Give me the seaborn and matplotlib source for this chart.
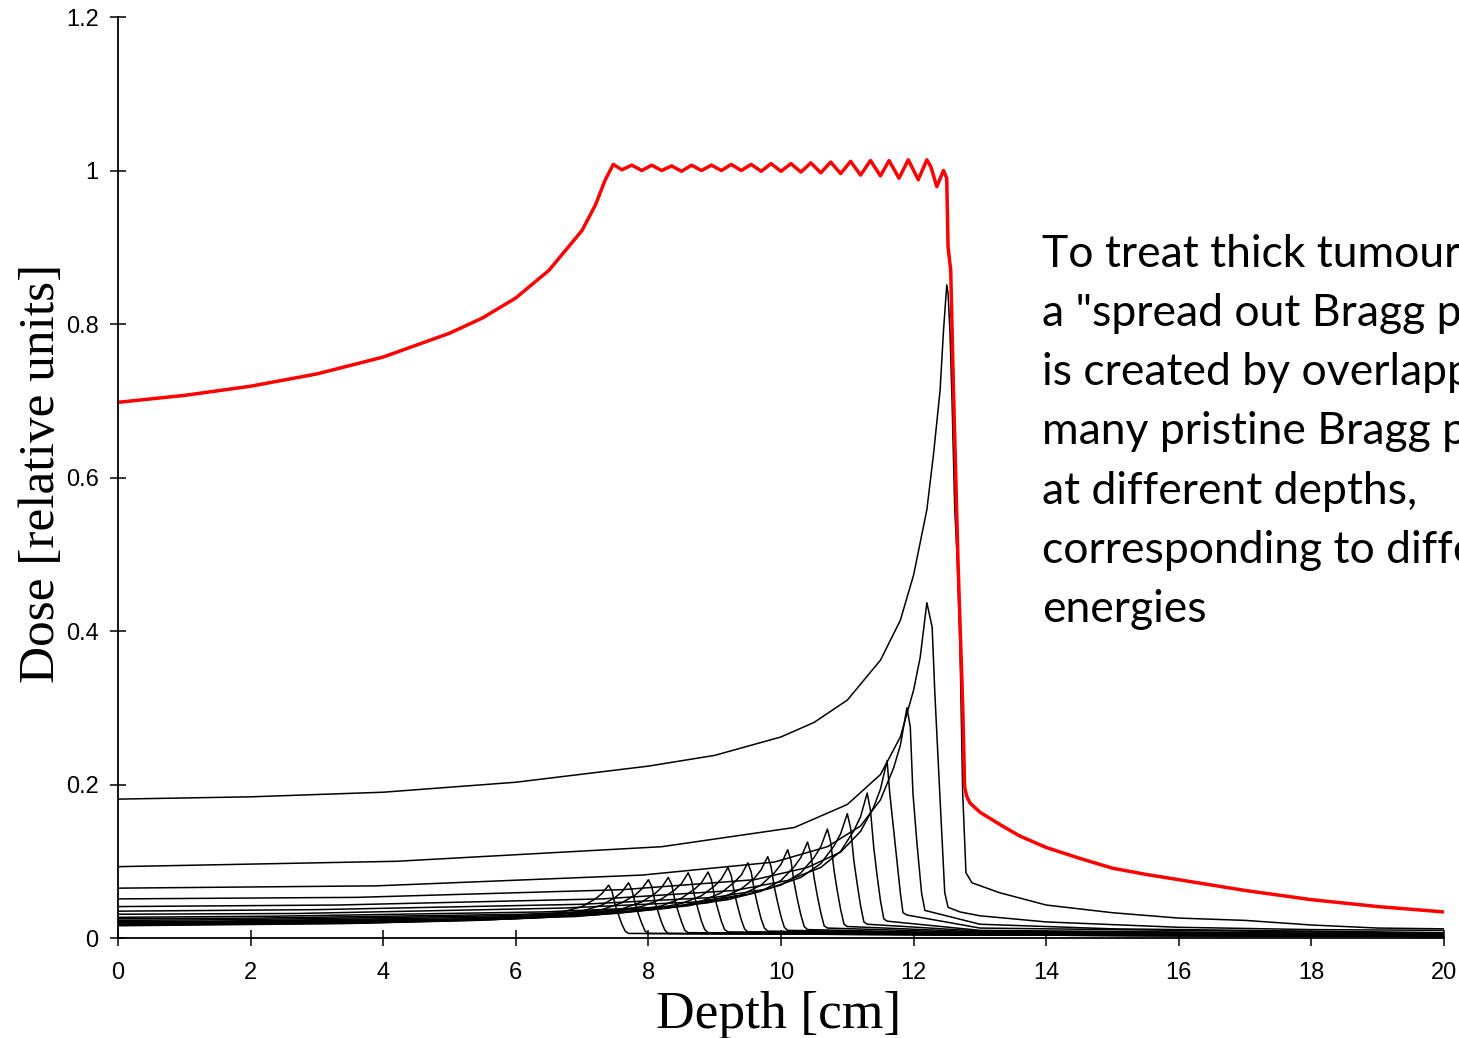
import pandas as pd
import seaborn as sns
import matplotlib.pyplot as plt

# -------------------------------
# Spread out Bragg peak (red)
# -------------------------------
sobp_depth = [0, 1, 2, 3, 4, 5, 5.5, 6, 6.5, 7.0, 7.2, 7.35, 7.47,
              7.6, 7.75, 7.9, 8.05, 8.2, 8.35, 8.5, 8.65, 8.8, 8.95, 9.1, 9.25,
              9.4, 9.55, 9.7, 9.85, 10.0, 10.15, 10.3, 10.45, 10.6, 10.75, 10.9,
              11.05, 11.2, 11.35, 11.5, 11.63, 11.78, 11.92, 12.07, 12.2, 12.26,
              12.35, 12.45, 12.5, 12.52, 12.56, 12.6, 12.67, 12.74, 12.77, 12.8,
              12.85, 13.0, 13.3, 13.6, 14.0, 14.5, 15, 15.5, 16, 17, 18, 19, 20]
sobp_dose = [0.698, 0.707, 0.719, 0.735, 0.757, 0.788, 0.808, 0.834, 0.870, 0.922, 0.955, 0.988, 1.008,
             1.001, 1.007, 1.000, 1.007, 1.000, 1.006, 0.999, 1.007, 1.000, 1.007, 1.000, 1.008,
             1.000, 1.008, 0.999, 1.009, 0.999, 1.009, 0.998, 1.010, 0.997, 1.011, 0.996,
             1.012, 0.994, 1.013, 0.993, 1.013, 0.990, 1.014, 0.988, 1.014, 1.005,
             0.979, 1.000, 0.990, 0.900, 0.870, 0.720, 0.490, 0.306, 0.197, 0.185,
             0.176, 0.164, 0.148, 0.133, 0.118, 0.104, 0.091, 0.083, 0.076, 0.062, 0.050, 0.041, 0.034]

# -------------------------------
# Pristine Bragg peaks (black), named by peak depth
# -------------------------------
peak_125_depth = [0, 2, 4, 6, 8, 9, 10, 10.5, 11, 11.5, 11.8, 12.0, 12.2, 12.3, 12.4, 12.45, 12.5,
                  12.52, 12.55, 12.58, 12.62, 12.66, 12.7, 12.74, 12.79, 12.88, 13.3, 14, 15, 16, 17, 18, 19, 20]
peak_125_dose = [0.181, 0.184, 0.190, 0.203, 0.224, 0.238, 0.262, 0.281, 0.310, 0.362, 0.414, 0.473, 0.558, 0.630, 0.714, 0.790, 0.851,
                 0.840, 0.787, 0.700, 0.560, 0.490, 0.380, 0.190, 0.085, 0.072, 0.059, 0.043, 0.033, 0.026, 0.023, 0.017, 0.013, 0.012]

peak_122_depth = [0, 4.2, 8.2, 10.2, 11.0, 11.5, 11.8, 12.0, 12.1, 12.2, 12.28, 12.32, 12.37, 12.42, 12.47, 12.52, 12.7, 13, 14, 16, 18, 20]
peak_122_dose = [0.093, 0.100, 0.119, 0.144, 0.174, 0.213, 0.262, 0.323, 0.366, 0.437, 0.405, 0.320, 0.232, 0.145, 0.059, 0.040, 0.034, 0.029, 0.021, 0.014, 0.011, 0.010]

peak_119_depth = [0, 3.9, 7.9, 9.9, 10.7, 11.2, 11.5, 11.7, 11.8, 11.9, 11.95, 11.99, 12.05, 12.12, 12.17, 13, 15, 20]
peak_119_dose = [0.065, 0.068, 0.082, 0.099, 0.119, 0.146, 0.180, 0.222, 0.251, 0.300, 0.275, 0.189, 0.124, 0.059, 0.036, 0.018, 0.012, 0.007]

peak_116_depth = [0, 3.6, 7.6, 9.6, 10.4, 10.9, 11.2, 11.4, 11.5, 11.6, 11.64, 11.72, 11.8, 11.84, 11.9, 13, 20]
peak_116_dose = [0.051, 0.053, 0.063, 0.076, 0.092, 0.112, 0.139, 0.171, 0.194, 0.231, 0.189, 0.124, 0.059, 0.033, 0.030, 0.013, 0.006]

peak_113_depth = [0, 3.3, 7.3, 9.3, 10.1, 10.6, 10.9, 11.1, 11.2, 11.3, 11.35, 11.4, 11.45, 11.5, 11.55, 11.6, 13, 20]
peak_113_dose = [0.041, 0.043, 0.051, 0.062, 0.075, 0.092, 0.113, 0.140, 0.158, 0.189, 0.166, 0.117, 0.081, 0.049, 0.025, 0.022, 0.010, 0.005]

peak_110_depth = [0, 3.0, 7.0, 9.0, 9.8, 10.3, 10.6, 10.8, 10.9, 11.0, 11.05, 11.1, 11.15, 11.2, 11.25, 11.3, 13, 20]
peak_110_dose = [0.035, 0.037, 0.044, 0.053, 0.064, 0.079, 0.097, 0.120, 0.136, 0.162, 0.143, 0.100, 0.070, 0.042, 0.021, 0.018, 0.009, 0.005]

peak_107_depth = [0, 2.7, 6.7, 8.7, 9.5, 10.0, 10.3, 10.5, 10.6, 10.7, 10.75, 10.8, 10.85, 10.9, 10.95, 11.0, 13, 20]
peak_107_dose = [0.031, 0.032, 0.039, 0.047, 0.057, 0.069, 0.085, 0.105, 0.119, 0.142, 0.125, 0.088, 0.061, 0.037, 0.018, 0.015, 0.008, 0.004]

peak_104_depth = [0, 2.4, 6.4, 8.4, 9.2, 9.7, 10.0, 10.2, 10.3, 10.4, 10.45, 10.5, 10.55, 10.6, 10.65, 10.7, 13, 20]
peak_104_dose = [0.027, 0.0285, 0.034, 0.041, 0.050, 0.061, 0.075, 0.093, 0.105, 0.125, 0.110, 0.078, 0.054, 0.033, 0.016, 0.013, 0.007, 0.004]

peak_101_depth = [0, 2.1, 6.1, 8.1, 8.9, 9.4, 9.7, 9.9, 10.0, 10.1, 10.15, 10.2, 10.25, 10.3, 10.35, 10.4, 13, 20]
peak_101_dose = [0.025, 0.026, 0.031, 0.038, 0.046, 0.056, 0.069, 0.085, 0.096, 0.115, 0.101, 0.071, 0.049, 0.030, 0.015, 0.011, 0.006, 0.004]

peak_098_depth = [0, 1.8, 5.8, 7.8, 8.6, 9.1, 9.4, 9.6, 9.7, 9.8, 9.85, 9.9, 9.95, 10.0, 10.05, 10.1, 13, 20]
peak_098_dose = [0.023, 0.024, 0.029, 0.035, 0.042, 0.052, 0.064, 0.078, 0.089, 0.106, 0.093, 0.066, 0.046, 0.028, 0.014, 0.010, 0.006, 0.003]

peak_095_depth = [0, 1.5, 5.5, 7.5, 8.3, 8.8, 9.1, 9.3, 9.4, 9.5, 9.55, 9.6, 9.65, 9.7, 9.75, 9.8, 13, 20]
peak_095_dose = [0.0215, 0.022, 0.027, 0.032, 0.039, 0.048, 0.059, 0.073, 0.082, 0.098, 0.086, 0.061, 0.042, 0.025, 0.013, 0.009, 0.005, 0.003]

peak_092_depth = [0, 1.2, 5.2, 7.2, 8.0, 8.5, 8.8, 9.0, 9.1, 9.2, 9.25, 9.3, 9.35, 9.4, 9.45, 9.5, 13, 20]
peak_092_dose = [0.020, 0.021, 0.025, 0.030, 0.037, 0.045, 0.055, 0.068, 0.077, 0.092, 0.081, 0.057, 0.040, 0.024, 0.012, 0.008, 0.005, 0.003]

peak_089_depth = [0, 4.9, 6.9, 7.7, 8.2, 8.5, 8.7, 8.8, 8.9, 8.95, 9.0, 9.05, 9.1, 9.15, 9.2, 13, 20]
peak_089_dose = [0.019, 0.023, 0.028, 0.034, 0.042, 0.052, 0.064, 0.072, 0.086, 0.076, 0.053, 0.037, 0.022, 0.011, 0.008, 0.005, 0.003]

peak_086_depth = [0, 4.6, 6.6, 7.4, 7.9, 8.2, 8.4, 8.5, 8.6, 8.65, 8.7, 8.75, 8.8, 8.85, 8.9, 13, 20]
peak_086_dose = [0.019, 0.023, 0.028, 0.034, 0.041, 0.051, 0.063, 0.071, 0.085, 0.075, 0.053, 0.037, 0.022, 0.011, 0.007, 0.004, 0.002]

peak_083_depth = [0, 4.3, 6.3, 7.1, 7.6, 7.9, 8.1, 8.2, 8.3, 8.35, 8.4, 8.45, 8.5, 8.55, 8.6, 13, 20]
peak_083_dose = [0.018, 0.0215, 0.026, 0.031, 0.038, 0.047, 0.058, 0.066, 0.079, 0.070, 0.049, 0.034, 0.021, 0.010, 0.007, 0.004, 0.002]

peak_080_depth = [0, 4.0, 6.0, 6.8, 7.3, 7.6, 7.8, 7.9, 8.0, 8.05, 8.1, 8.15, 8.2, 8.25, 8.3, 13, 20]
peak_080_dose = [0.0175, 0.0207, 0.025, 0.030, 0.037, 0.046, 0.056, 0.064, 0.076, 0.067, 0.047, 0.033, 0.020, 0.010, 0.006, 0.004, 0.002]

peak_077_depth = [0, 3.7, 5.7, 6.5, 7.0, 7.3, 7.5, 7.6, 7.7, 7.75, 7.8, 7.85, 7.9, 7.95, 8.0, 13, 20]
peak_077_dose = [0.0168, 0.0196, 0.024, 0.029, 0.035, 0.043, 0.053, 0.060, 0.072, 0.063, 0.045, 0.031, 0.019, 0.009, 0.006, 0.004, 0.002]

peak_074_depth = [0, 3.4, 5.4, 6.2, 6.7, 7.0, 7.2, 7.3, 7.4, 7.45, 7.5, 7.55, 7.6, 7.65, 7.7, 13, 20]
peak_074_dose = [0.016, 0.0188, 0.023, 0.027, 0.034, 0.041, 0.051, 0.058, 0.069, 0.061, 0.043, 0.030, 0.018, 0.009, 0.006, 0.004, 0.002]

pristine = {
    "12.5": (peak_125_depth, peak_125_dose), "12.2": (peak_122_depth, peak_122_dose),
    "11.9": (peak_119_depth, peak_119_dose), "11.6": (peak_116_depth, peak_116_dose),
    "11.3": (peak_113_depth, peak_113_dose), "11.0": (peak_110_depth, peak_110_dose),
    "10.7": (peak_107_depth, peak_107_dose), "10.4": (peak_104_depth, peak_104_dose),
    "10.1": (peak_101_depth, peak_101_dose), "9.8": (peak_098_depth, peak_098_dose),
    "9.5": (peak_095_depth, peak_095_dose), "9.2": (peak_092_depth, peak_092_dose),
    "8.9": (peak_089_depth, peak_089_dose), "8.6": (peak_086_depth, peak_086_dose),
    "8.3": (peak_083_depth, peak_083_dose), "8.0": (peak_080_depth, peak_080_dose),
    "7.7": (peak_077_depth, peak_077_dose), "7.4": (peak_074_depth, peak_074_dose),
}

x_ticks = [0, 2, 4, 6, 8, 10, 12, 14, 16, 18, 20]
y_ticks = [0, 0.2, 0.4, 0.6, 0.8, 1.0, 1.2]
y_tick_labels = ["0", "0.2", "0.4", "0.6", "0.8", "1", "1.2"]

# the slide text runs off the right edge, as in the original
note_lines = [
    "To treat thick tumours,",
    'a "spread out Bragg peak"',
    "is created by overlapping",
    "many pristine Bragg peaks",
    "at different depths,",
    "corresponding to different",
    "energies",
]

# -------------------------------
# Long table for seaborn
# -------------------------------
frames = []
for name, (d, v) in pristine.items():
    frames.append(pd.DataFrame({"depth": d, "dose": v, "curve": name}))
df = pd.concat(frames, ignore_index=True)

sns.set_style("ticks")
plt.rcParams["font.family"] = ["Liberation Sans", "DejaVu Sans"]
plt.rcParams["text.color"] = "black"
plt.rcParams["axes.labelcolor"] = "black"

fig = plt.figure(figsize=(14.59, 10.38), dpi=100)
ax = fig.add_axes([0.0809, 0.0963, 0.9088, 0.8873])

sns.lineplot(data=df, x="depth", y="dose", units="curve", estimator=None,
             sort=False, color="black", lw=1.1, ax=ax)
sns.lineplot(x=sobp_depth, y=sobp_dose, estimator=None, sort=False,
             color="red", lw=2.5, ax=ax)

ax.set_xlim(0, 20)
ax.set_ylim(0, 1.2)
ax.set_xticks(x_ticks)
ax.set_xticklabels([str(t) for t in x_ticks])
ax.set_yticks(y_ticks)
ax.set_yticklabels(y_tick_labels)
ax.tick_params(direction="inout", length=12, width=1.1, labelsize=17, colors="black")
ax.tick_params(axis="x", pad=11)
ax.tick_params(axis="y", pad=8)
sns.despine(ax=ax)
for s in ("left", "bottom"):
    ax.spines[s].set_linewidth(1.3)
    ax.spines[s].set_color("black")

ax.set_xlabel("Depth [cm]", family="Liberation Serif", fontsize=38.5, color="black")
ax.set_ylabel("Dose [relative units]", family="Liberation Serif", fontsize=37, color="black")
ax.xaxis.set_label_coords(0.498, -0.058)
ax.yaxis.set_label_coords(-0.040, 0.505)

fig.text(0.7142, 0.775, "\n".join(note_lines), family=["Lato", "DejaVu Sans"],
         fontsize=32, va="top", ha="left", linespacing=1.555, color="black")

fig.savefig("out.png", dpi=100)
